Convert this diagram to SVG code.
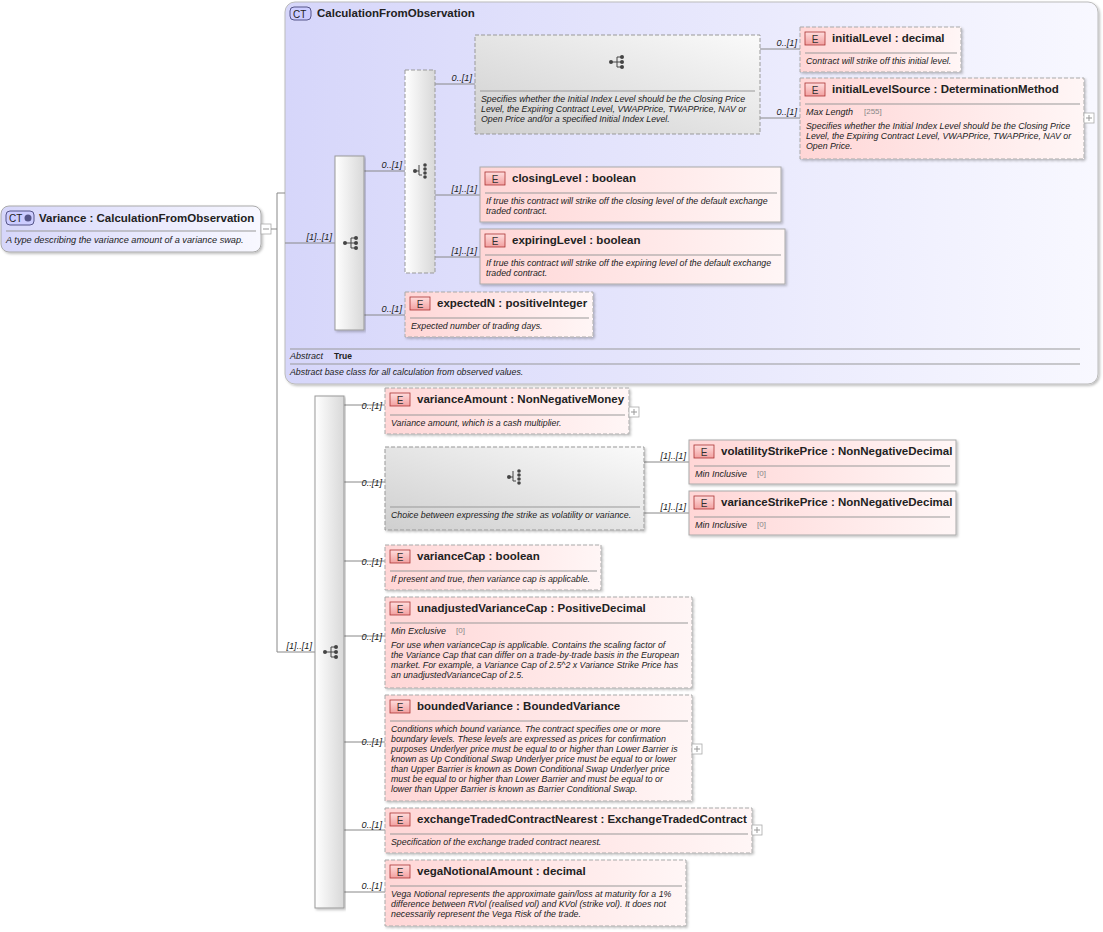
<svg xmlns="http://www.w3.org/2000/svg" xmlns:xlink="http://www.w3.org/1999/xlink" width="1103" height="932" viewBox="0 0 1103 932">
<style>
text{font-family:"Liberation Sans",Arial,sans-serif;fill:#222}
.t{font-size:11.5px;font-weight:bold}
.d{font-size:8.8px;font-style:italic}
.m{font-size:9px;font-style:italic}
.f{font-size:8px;fill:#888}
.lb{font-size:9.2px;font-style:italic;text-anchor:end}
.el{fill:url(#pk);stroke:#aaa;stroke-width:1}
.dash{stroke-dasharray:4,2}
.sep{stroke:#999;stroke-width:1}
.ln{stroke:#888;stroke-width:1;fill:none}
.badge{fill:url(#bd);stroke:#a33;stroke-width:0.8}
.bt{font-size:10px;fill:#333}
.pl{fill:#fff;stroke:#aaa;stroke-width:0.8}
</style>
<defs>
<linearGradient id="pk" x1="0" y1="0" x2="1" y2="0"><stop offset="0" stop-color="#ffd6d6"/><stop offset="1" stop-color="#fff6f6"/></linearGradient>
<linearGradient id="bd" x1="0" y1="0" x2="0" y2="1"><stop offset="0" stop-color="#fdd"/><stop offset="1" stop-color="#f2a0a0"/></linearGradient>
<linearGradient id="ct" x1="0" y1="0" x2="1" y2="0"><stop offset="0" stop-color="#d6d6fa"/><stop offset="1" stop-color="#f8f8ff"/></linearGradient>
<linearGradient id="sq" x1="0" y1="0" x2="1" y2="0"><stop offset="0" stop-color="#fff"/><stop offset="1" stop-color="#d8d8d8"/></linearGradient>
<linearGradient id="gp" x1="0" y1="1" x2="1" y2="0"><stop offset="0" stop-color="#cfcfcf"/><stop offset="1" stop-color="#fafafa"/></linearGradient>
<filter id="sh" x="-5%" y="-5%" width="110%" height="120%"><feDropShadow dx="1.5" dy="1.5" stdDeviation="1" flood-color="#000" flood-opacity="0.25"/></filter>
<g id="seq"><circle cx="-6" cy="0" r="2" fill="#444"/><path d="M-6 0H0M0-5V5M0-5H4M0 0H4M0 5H4" stroke="#444" fill="none"/><circle cx="5" cy="-5" r="2" fill="#444"/><circle cx="5" cy="0" r="2" fill="#444"/><circle cx="5" cy="5" r="2" fill="#444"/></g>
<g id="cho"><circle cx="-6" cy="0" r="2" fill="#444"/><path d="M-6 0H-2M-2-6V4H1" stroke="#444" fill="none"/><circle cx="4" cy="-6" r="1.8" fill="#444"/><circle cx="4" cy="-2" r="1.8" fill="#444"/><circle cx="4" cy="2" r="1.8" fill="#444"/><circle cx="4" cy="6" r="1.8" fill="#444"/></g>
<g id="eb"><rect x="0" y="0" width="20" height="13" class="badge"/><text x="10" y="10.5" text-anchor="middle" class="bt">E</text></g>
</defs>
<rect width="1103" height="932" fill="#fff"/>

<g id="variance">
<rect x="1" y="206" width="260" height="46" rx="8" fill="url(#ct)" stroke="#aaa" filter="url(#sh)"/>
<rect x="6" y="211" width="28" height="14" rx="4" fill="#ccf" stroke="#558"/><text x="9" y="222" style="font-size:10px">CT</text><circle cx="28" cy="218" r="3.5" fill="#558"/>
<text x="39" y="222" class="t">Variance  : CalculationFromObservation</text>
<line x1="6" y1="231" x2="256" y2="231" class="sep"/>
<text x="6" y="243" class="d" style="font-size:9.2px">A type describing the variance amount of a variance swap.</text>
<rect x="261" y="224" width="10" height="10" class="pl"/><path d="M263 229H269" stroke="#999"/>
</g>

<g id="calcFromObs">
<rect x="285" y="2" width="813" height="382" rx="10" fill="url(#ct)" stroke="#bbb" filter="url(#sh)"/>
<rect x="290" y="7" width="21" height="13" rx="4" fill="#ccf" stroke="#558"/><text x="293" y="17.5" style="font-size:10px">CT</text>
<text x="317" y="17" class="t">CalculationFromObservation</text>
<line x1="290" y1="349" x2="1080" y2="349" class="sep"/>
<text x="290" y="359" class="m">Abstract</text><text x="334" y="359" style="font-size:8.5px;font-weight:bold">True</text>
<line x1="290" y1="364" x2="1080" y2="364" class="sep"/>
<text x="290" y="375" class="d">Abstract base class for all calculation from observed values.</text>
</g>

<g id="connectors">
<path class="ln" d="M271 229H277M277 193V652M277 193H285M277 652H315"/>
<path class="ln" d="M285 243H335M364 171H405M364 315H405M435 84H475M435 195H480M435 257H480M760 49H800M760 118H800"/>
<path class="ln" d="M344 405H385M344 482H385M644 462H689M644 513H689M344 561H385M344 636H385M344 742H385M344 830H385M344 892H385"/>
</g>
<g id="labels">
<text x="332" y="240" class="lb">[1]..[1]</text><text x="402" y="168" class="lb">0..[1]</text><text x="472" y="81" class="lb">0..[1]</text>
<text x="477" y="192" class="lb">[1]..[1]</text><text x="477" y="254" class="lb">[1]..[1]</text><text x="402" y="312" class="lb">0..[1]</text>
<text x="797" y="46" class="lb">0..[1]</text><text x="797" y="115" class="lb">0..[1]</text>
<text x="312" y="649" class="lb">[1]..[1]</text><text x="382" y="409" class="lb">0..[1]</text><text x="382" y="486" class="lb">0..[1]</text>
<text x="686" y="459" class="lb">[1]..[1]</text><text x="686" y="510" class="lb">[1]..[1]</text><text x="382" y="565" class="lb">0..[1]</text>
<text x="382" y="640" class="lb">0..[1]</text><text x="382" y="745" class="lb">0..[1]</text><text x="382" y="828" class="lb">0..[1]</text><text x="382" y="889" class="lb">0..[1]</text>
</g>

<g id="seq1"><rect x="335" y="156" width="29" height="174" fill="url(#sq)" stroke="#999" filter="url(#sh)"/><use xlink:href="#seq" x="351" y="243"/></g>
<g id="choice1"><rect x="405" y="70" width="30" height="203" fill="url(#sq)" stroke="#999" class="dash"/><use xlink:href="#cho" x="421" y="171"/></g>

<g id="group1">
<rect x="475" y="35" width="285" height="99" fill="url(#gp)" stroke="#999" class="dash"/>
<use xlink:href="#seq" x="617" y="62"/>
<line x1="480" y1="91" x2="755" y2="91" class="sep"/>
<text class="d"><tspan x="481" y="102">Specifies whether the Initial Index Level should be the Closing Price</tspan><tspan x="481" y="112">Level, the Expiring Contract Level, VWAPPrice, TWAPPrice, NAV or</tspan><tspan x="481" y="122">Open Price and/or a specified Initial Index Level.</tspan></text>
</g>

<g id="initialLevel">
<rect x="800" y="27" width="161" height="45" class="el dash" filter="url(#sh)"/>
<use xlink:href="#eb" x="805" y="32"/><text x="832" y="42" class="t">initialLevel  : decimal</text>
<line x1="805" y1="53" x2="957" y2="53" class="sep"/>
<text x="806" y="64" class="d">Contract will strike off this initial level.</text>
</g>
<g id="initialLevelSource">
<rect x="800" y="78" width="284" height="81" class="el dash" filter="url(#sh)"/>
<use xlink:href="#eb" x="805" y="83"/><text x="832" y="93" class="t">initialLevelSource  : DeterminationMethod</text>
<line x1="805" y1="104" x2="1080" y2="104" class="sep"/>
<text x="806" y="115" class="m">Max Length</text><text x="864" y="114" class="f">[255]</text>
<text class="d"><tspan x="806" y="129">Specifies whether the Initial Index Level should be the Closing Price</tspan><tspan x="806" y="139">Level, the Expiring Contract Level, VWAPPrice, TWAPPrice, NAV or</tspan><tspan x="806" y="149">Open Price.</tspan></text>
<rect x="1084" y="113" width="10" height="10" class="pl"/><path d="M1086 118H1092M1089 115V121" stroke="#999"/>
</g>
<g id="closingLevel">
<rect x="480" y="167" width="301" height="55" class="el" filter="url(#sh)"/>
<use xlink:href="#eb" x="485" y="172"/><text x="512" y="182" class="t">closingLevel  : boolean</text>
<line x1="485" y1="193" x2="777" y2="193" class="sep"/>
<text class="d"><tspan x="486" y="204">If true this contract will strike off the closing level of the default exchange</tspan><tspan x="486" y="214">traded contract.</tspan></text>
</g>
<g id="expiringLevel">
<rect x="480" y="229" width="305" height="55" class="el" filter="url(#sh)"/>
<use xlink:href="#eb" x="485" y="234"/><text x="512" y="244" class="t">expiringLevel  : boolean</text>
<line x1="485" y1="255" x2="781" y2="255" class="sep"/>
<text class="d"><tspan x="486" y="266">If true this contract will strike off the expiring level of the default exchange</tspan><tspan x="486" y="276">traded contract.</tspan></text>
</g>
<g id="expectedN">
<rect x="405" y="292" width="188" height="45" class="el dash" filter="url(#sh)"/>
<use xlink:href="#eb" x="410" y="297"/><text x="437" y="307" class="t">expectedN  : positiveInteger</text>
<line x1="410" y1="318" x2="589" y2="318" class="sep"/>
<text x="411" y="329" class="d">Expected number of trading days.</text>
</g>

<g id="seq2"><rect x="315" y="396" width="29" height="512" fill="url(#sq)" stroke="#999" filter="url(#sh)"/><use xlink:href="#seq" x="331" y="652"/></g>

<g id="varianceAmount">
<rect x="385" y="388" width="244" height="46" class="el dash" filter="url(#sh)"/>
<use xlink:href="#eb" x="390" y="393"/><text x="417" y="403" class="t">varianceAmount  : NonNegativeMoney</text>
<line x1="390" y1="415" x2="625" y2="415" class="sep"/>
<text x="391" y="426" class="d">Variance amount, which is a cash multiplier.</text>
<rect x="629" y="407" width="10" height="10" class="pl"/><path d="M631 412H637M634 409V415" stroke="#999"/>
</g>
<g id="choice2">
<rect x="385" y="447" width="259" height="83" fill="url(#gp)" stroke="#999" class="dash" filter="url(#sh)"/>
<use xlink:href="#cho" x="515" y="477"/>
<line x1="390" y1="507" x2="640" y2="507" class="sep"/>
<text x="391" y="518" class="d">Choice between expressing the strike as volatility or variance.</text>
</g>
<g id="volatilityStrikePrice">
<rect x="689" y="440" width="267" height="44" class="el" filter="url(#sh)"/>
<use xlink:href="#eb" x="694" y="445"/><text x="721" y="455" class="t">volatilityStrikePrice  : NonNegativeDecimal</text>
<line x1="694" y1="466" x2="950" y2="466" class="sep"/>
<text x="695" y="477" class="m">Min Inclusive</text><text x="757" y="476" class="f">[0]</text>
</g>
<g id="varianceStrikePrice">
<rect x="689" y="491" width="267" height="44" class="el" filter="url(#sh)"/>
<use xlink:href="#eb" x="694" y="496"/><text x="721" y="506" class="t">varianceStrikePrice  : NonNegativeDecimal</text>
<line x1="694" y1="517" x2="950" y2="517" class="sep"/>
<text x="695" y="528" class="m">Min Inclusive</text><text x="757" y="527" class="f">[0]</text>
</g>
<g id="varianceCap">
<rect x="385" y="545" width="216" height="45" class="el dash" filter="url(#sh)"/>
<use xlink:href="#eb" x="390" y="550"/><text x="417" y="560" class="t">varianceCap  : boolean</text>
<line x1="390" y1="571" x2="597" y2="571" class="sep"/>
<text x="391" y="582" class="d">If present and true, then variance cap is applicable.</text>
</g>
<g id="unadjustedVarianceCap">
<rect x="385" y="597" width="307" height="91" class="el dash" filter="url(#sh)"/>
<use xlink:href="#eb" x="390" y="602"/><text x="417" y="612" class="t">unadjustedVarianceCap  : PositiveDecimal</text>
<line x1="390" y1="623" x2="688" y2="623" class="sep"/>
<text x="391" y="634" class="m">Min Exclusive</text><text x="456" y="633" class="f">[0]</text>
<text class="d"><tspan x="391" y="648">For use when varianceCap is applicable. Contains the scaling factor of</tspan><tspan x="391" y="658">the Variance Cap that can differ on a trade-by-trade basis in the European</tspan><tspan x="391" y="668">market. For example, a Variance Cap of 2.5^2 x Variance Strike Price has</tspan><tspan x="391" y="678">an unadjustedVarianceCap of 2.5.</tspan></text>
</g>
<g id="boundedVariance">
<rect x="385" y="695" width="307" height="106" class="el dash" filter="url(#sh)"/>
<use xlink:href="#eb" x="390" y="700"/><text x="417" y="710" class="t">boundedVariance  : BoundedVariance</text>
<line x1="390" y1="721" x2="688" y2="721" class="sep"/>
<text class="d"><tspan x="391" y="732">Conditions which bound variance. The contract specifies one or more</tspan><tspan x="391" y="742">boundary levels. These levels are expressed as prices for confirmation</tspan><tspan x="391" y="752">purposes Underlyer price must be equal to or higher than Lower Barrier is</tspan><tspan x="391" y="762">known as Up Conditional Swap Underlyer price must be equal to or lower</tspan><tspan x="391" y="772">than Upper Barrier is known as Down Conditional Swap Underlyer price</tspan><tspan x="391" y="782">must be equal to or higher than Lower Barrier and must be equal to or</tspan><tspan x="391" y="792">lower than Upper Barrier is known as Barrier Conditional Swap.</tspan></text>
<rect x="692" y="744" width="10" height="10" class="pl"/><path d="M694 749H700M697 746V752" stroke="#999"/>
</g>
<g id="exchangeTradedContractNearest">
<rect x="385" y="808" width="367" height="45" class="el dash" filter="url(#sh)"/>
<use xlink:href="#eb" x="390" y="813"/><text x="417" y="823" class="t">exchangeTradedContractNearest  : ExchangeTradedContract</text>
<line x1="390" y1="834" x2="748" y2="834" class="sep"/>
<text x="391" y="845" class="d">Specification of the exchange traded contract nearest.</text>
<rect x="752" y="825" width="10" height="10" class="pl"/><path d="M754 830H760M757 827V833" stroke="#999"/>
</g>
<g id="vegaNotionalAmount">
<rect x="385" y="860" width="301" height="66" class="el dash" filter="url(#sh)"/>
<use xlink:href="#eb" x="390" y="865"/><text x="417" y="875" class="t">vegaNotionalAmount  : decimal</text>
<line x1="390" y1="886" x2="682" y2="886" class="sep"/>
<text class="d"><tspan x="391" y="897">Vega Notional represents the approximate gain/loss at maturity for a 1%</tspan><tspan x="391" y="907">difference between RVol (realised vol) and KVol (strike vol). It does not</tspan><tspan x="391" y="917">necessarily represent the Vega Risk of the trade.</tspan></text>
</g>
</svg>
